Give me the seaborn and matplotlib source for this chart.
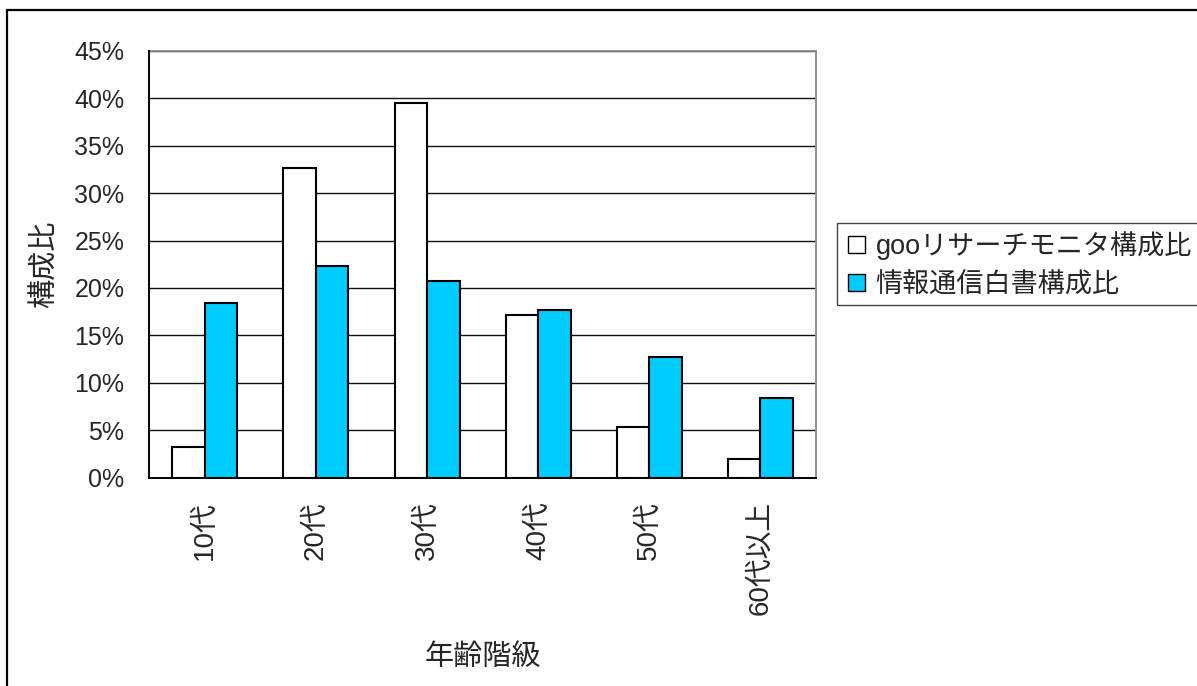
import matplotlib
matplotlib.use("Agg")
import matplotlib.pyplot as plt
from matplotlib.patches import Rectangle
from matplotlib.ticker import FuncFormatter, FixedLocator
import seaborn as sns
import pandas as pd

# Age brackets and composition ratios (%)
age_groups = ["10代", "20代", "30代", "40代", "50代", "60代以上"]
goo_ratio = [3.2, 32.7, 39.5, 17.1, 5.3, 1.9]
whitepaper_ratio = [18.4, 22.3, 20.7, 17.7, 12.7, 8.4]
series_names = ["gooリサーチモニタ構成比", "情報通信白書構成比"]
y_ticks = [0, 5, 10, 15, 20, 25, 30, 35, 40, 45]

df = pd.DataFrame({
    "年齢階級": age_groups * 2,
    "構成比": goo_ratio + whitepaper_ratio,
    "系列": [series_names[0]] * len(age_groups) + [series_names[1]] * len(age_groups),
})

sns.set_style("white")
plt.rcParams["font.family"] = ["Liberation Sans", "Noto Sans CJK JP"]

W, H = 1197, 686
fig = plt.figure(figsize=(W / 100, H / 100), dpi=100)
ax = fig.add_axes([149.3 / W, 1 - 477.5 / H, (816 - 149.3) / W, (477.5 - 51) / H])

palette = {series_names[0]: "#FFFFFF", series_names[1]: "#00CCFF"}
sns.barplot(data=df, x="年齢階級", y="構成比", hue="系列", order=age_groups,
            hue_order=series_names, palette=palette, width=0.585, gap=0,
            edgecolor="black", linewidth=1.5, saturation=1, legend=False,
            errorbar=None, ax=ax, zorder=3)

ax.set_ylim(0, 45)
ax.set_xlim(-0.5, len(age_groups) - 0.5)
ax.set_yticks(y_ticks)
ax.yaxis.set_major_formatter(FuncFormatter(lambda v, _: f"{v:.0f}%"))
ax.yaxis.grid(True, color="#111111", linewidth=1.0, zorder=0)
ax.set_axisbelow(True)

# category separators on the category axis
ax.xaxis.set_minor_locator(FixedLocator([i + 0.5 for i in range(len(age_groups) - 1)]))
ax.tick_params(axis="x", which="major", length=0, pad=17, labelsize=20, labelrotation=90)
ax.tick_params(axis="x", which="minor", direction="in", length=7.5, width=1.0, color="#555555")
ax.tick_params(axis="y", which="major", direction="in", length=7.5, width=1.0, color="black",
               pad=18, labelsize=18)

for side in ("top", "right"):
    ax.spines[side].set_color("#888888")
    ax.spines[side].set_linewidth(1.3)
for side in ("left", "bottom"):
    ax.spines[side].set_color("black")
    ax.spines[side].set_linewidth(1.4)
    ax.spines[side].set_zorder(4)

ax.set_xlabel("年齢階級", fontsize=21, labelpad=20)
ax.set_ylabel("構成比", fontsize=21, labelpad=11)

# legend with a hand-drawn frame
handles = [Rectangle((0, 0), 1, 1, facecolor=palette[n], edgecolor="black", linewidth=1.0)
           for n in series_names]
leg = fig.legend(handles, series_names, loc="upper left",
                 bbox_to_anchor=(843 / W, 1 - 226 / H), frameon=False, fontsize=19.5,
                 handlelength=0.6, handleheight=0.6, handletextpad=0.4,
                 labelspacing=0.42, borderpad=0.2, borderaxespad=0)
fig.patches.append(Rectangle((837 / W, 1 - 305 / H), (1215 - 837) / W, (305 - 223) / H,
                             transform=fig.transFigure, facecolor="none",
                             edgecolor="#444444", linewidth=1.0))

# outer chart border
fig.patches.append(Rectangle((7 / W, -0.02), 1.05, 1 - 10 / H + 0.02,
                             transform=fig.transFigure, facecolor="none",
                             edgecolor="black", linewidth=1.6))

fig.savefig("out.png", dpi=100)
